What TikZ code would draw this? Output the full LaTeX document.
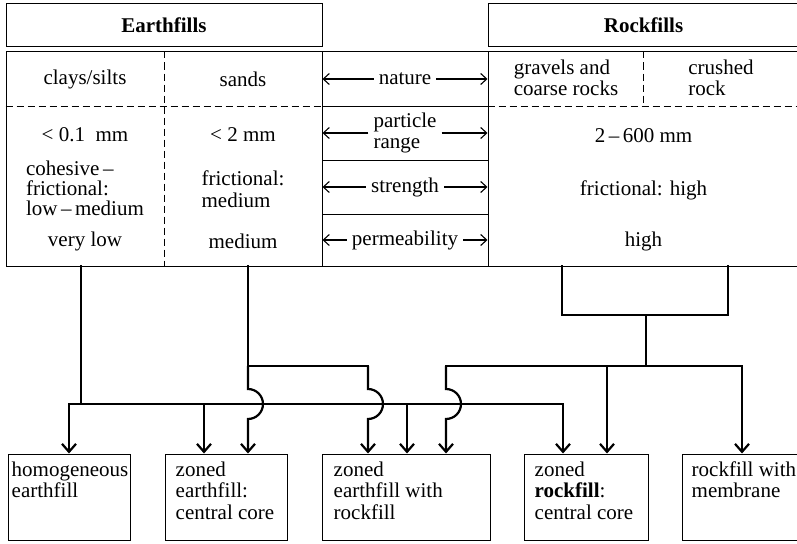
\documentclass[tikz,border=0pt]{standalone}
\usepackage{fontspec}
\setmainfont{Liberation Serif}
\usetikzlibrary{arrows.meta}
\usetikzlibrary{positioning}

\newcommand{\dfont}{\fontsize{21pt}{21.5pt}\selectfont}

\tikzset{
  plainbox/.style={draw, line width=1pt, inner sep=0pt},
  headbox/.style={plainbox, minimum height=43pt, font=\dfont\bfseries},
  cell/.style={align=left, inner sep=0pt},
  tabline/.style={line width=1pt},
  divide/.style={line width=1pt, dash pattern=on 7pt off 4pt},
  prop/.style={inner xsep=5pt, inner ysep=0pt, align=left},
  pointer/.style={line width=1.1pt, -{Straight Barb[length=6pt,width=11pt]}},
  wire/.style={line width=2.2pt, line cap=rect},
  feed/.style={line width=2.2pt, -{Straight Barb[length=8pt,width=14pt]}},
  damtype/.style={plainbox, minimum height=86pt},
  damtext/.style={align=left, inner sep=0pt},
}

\begin{document}
\begin{tikzpicture}[x=1pt, y=-1pt, font=\dfont]
  \useasboundingbox (0,0) rectangle (797,543);
  \clip (0,0) rectangle (797,543);

  % headings and tables
  \node[headbox, minimum width=316pt] (earthhead) at (164,25.5) {Earthfills};
  \node[headbox, minimum width=311pt] (rockhead) at (643.5,25.5) {Rockfills};
  \node[plainbox, minimum width=316pt, minimum height=214pt] (earthtab) at (164,159) {};
  \node[plainbox, minimum width=311pt, minimum height=214pt] (rocktab) at (643.5,159) {};
  \foreach \y in {52,106,160,214,266}
    \draw[tabline] (earthtab.east |- 0,\y) -- (rocktab.west |- 0,\y);
  \draw[divide] (earthtab.west |- 0,106) -- (earthtab.east |- 0,106);
  \draw[divide] (rocktab.west |- 0,106) -- (rocktab.east |- 0,106);
  \draw[divide] (earthtab.north) -- (earthtab.south);
  \draw[divide] (rocktab.north) -- (rocktab.north |- 0,106);

  % earthfills
  \node (clays) at (85,79) {clays/silts};
  \node (sands) at (243,79) {sands};
  \node (claysize) at (85,135) {<\ 0.1\ \ mm};
  \node (sandsize) at (243,135) {< 2 mm};
  \node[cell, font=\fontsize{21pt}{20pt}\selectfont] (claystrength) at (85,188) {cohesive\,–\\frictional:\\low\,–\,medium};
  \node[cell] (sandstrength) at (243,189) {frictional:\\medium};
  \node (clayperm) at (85,241) {very low};
  \node (sandperm) at (243,241) {medium};

  % rockfills
  \node[cell] (gravels) at (566,78) {gravels and\\coarse rocks};
  \node[cell] (crushed) at (721,78) {crushed\\rock};
  \node (rocksize) at (643.5,136) {2\,–\,600 mm};
  \node (rockstrength) at (643.5,190) {frictional: high};
  \node (rockperm) at (643.5,241) {high};

  % properties
  \foreach \name/\txt/\y in {nature/nature/79, range/{particle\\range}/133,
                             strength/strength/187, perm/permeability/240} {
    \node[prop] (\name) at (405,\y) {\txt};
    \draw[pointer] (\name) -- (\name -| earthtab.east);
    \draw[pointer] (\name) -- (\name -| rocktab.west);
  }

  % dam types
  \node[damtype, minimum width=122pt] (homog) at (69,497) {};
  \node[damtype, minimum width=122pt] (ecore) at (226,497) {};
  \node[damtype, minimum width=168pt] (erock) at (406,497) {};
  \node[damtype, minimum width=124pt] (rcore) at (586,497) {};
  \node[damtype, minimum width=120pt] (membrane) at (742,497) {};
  \node[damtext, below right=8pt and 4pt of homog.north west] (homogtext) {homogeneous\\earthfill};
  \node[damtext, below right=8pt and 11pt of ecore.north west] (ecoretext) {zoned\\earthfill:\\central core};
  \node[damtext, below right=8pt and 12pt of erock.north west] (erocktext) {zoned\\earthfill with\\rockfill};
  \node[damtext, below right=8pt and 11pt of rcore.north west] (rcoretext) {zoned\\\textbf{rockfill}:\\central core};
  \node[damtext, below right=8pt and 10pt of membrane.north west] (membranetext) {rockfill with\\membrane};

  % drop points
  \coordinate (ecoreL) at ([xshift=-22pt]ecore.north);
  \coordinate (ecoreR) at ([xshift=22pt]ecore.north);
  \coordinate (erockL) at ([xshift=-38pt]erock.north);
  \coordinate (erockM) at ([xshift=1pt]erock.north);
  \coordinate (erockR) at ([xshift=40pt]erock.north);
  \coordinate (rcoreL) at ([xshift=-23pt]rcore.north);
  \coordinate (rcoreR) at ([xshift=21pt]rcore.north);
  \coordinate (claydrop) at ([xshift=-83pt]earthtab.south);
  \coordinate (sanddrop) at (earthtab.south -| ecoreR);
  \coordinate (rockdropL) at ([xshift=-81.5pt]rocktab.south);
  \coordinate (rockdropR) at ([xshift=84.5pt]rocktab.south);
  \coordinate (bus) at (claydrop |- 0,404);
  \coordinate (sandsplit) at (sanddrop |- 0,366);
  \coordinate (rockjoin) at (646,315);
  \coordinate (rocksplit) at (rockjoin |- 0,366);

  % connections
  \draw[wire] (claydrop) -- (bus);
  \draw[wire] (bus -| homog.north) -- (bus -| rcoreL);
  \foreach \t in {homog.north,ecoreL,erockM,rcoreL}
    \draw[feed] (bus -| \t) -- (\t);
  \draw[wire] (sanddrop) -- (sandsplit) -- (sandsplit -| erockL);
  \draw[wire] (rockdropL) -- (rockdropL |- rockjoin) -- (rockdropR |- rockjoin) -- (rockdropR);
  \draw[wire] (rockjoin) -- (rocksplit);
  \draw[wire] (rocksplit -| erockR) -- (rocksplit -| membrane.north);
  \draw[feed] (rocksplit -| rcoreR) -- (rcoreR);
  \draw[feed] (rocksplit -| membrane.north) -- (membrane.north);
  \foreach \t/\top in {ecoreR/sandsplit,erockL/sandsplit,erockR/rocksplit} {
    \coordinate (hop) at (bus -| \t);
    \draw[feed] (\top -| \t) -- ([yshift=15pt]hop) arc[start angle=90, end angle=-90, radius=15pt] -- (\t);
  }
\end{tikzpicture}
\end{document}
